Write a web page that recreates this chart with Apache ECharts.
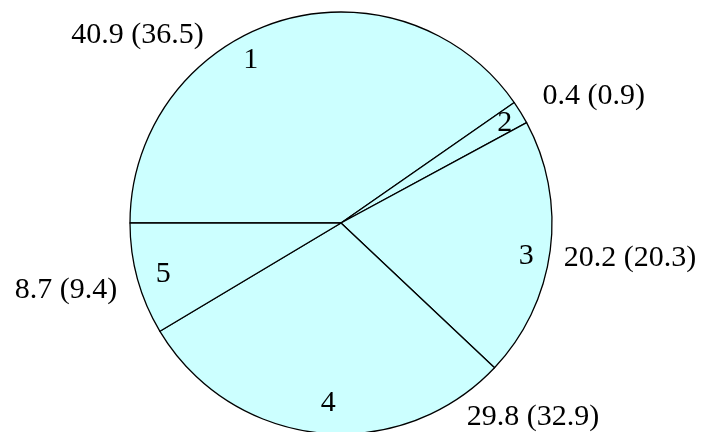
<!DOCTYPE html>
<html><head><meta charset="utf-8">
<script src="https://cdn.jsdelivr.net/npm/echarts@6/dist/echarts.min.js"></script>
<style>html,body{margin:0;padding:0;background:#fff}#c{width:707px;height:432px}</style>
</head><body><div id="c"></div>
<script>
// ---- data ----
const categories = ['1', '2', '3', '4', '5'];
const values = [40.9, 0.4, 20.2, 29.8, 8.7];
const secondValues = [36.5, 0.9, 20.3, 32.9, 9.4];

// ---- label placement (polar, degrees counter-clockwise from east; px from centre) ----
const innerLabelAngles = [119, 31.5, -10, -94, 196];
const innerLabelRadius = [186, 192, 188, 181, 185];
const outerLabelAngles = [137.3, 26.7, -6.9, -45.3, 193.7];
const outerLabelRadius = [277, 283, 291, 273, 283];

const cx = 341, cy = 223, R = 211;
const font = { fontFamily: 'Liberation Serif', fontSize: 30, color: '#000' };

function polar(angles, radii) {
  return function (p) {
    const a = angles[p.dataIndex] * Math.PI / 180;
    return {
      x: cx + radii[p.dataIndex] * Math.cos(a),
      y: cy - radii[p.dataIndex] * Math.sin(a),
      align: 'center',
      verticalAlign: 'middle'
    };
  };
}

const pieData = categories.map((c, i) => ({ name: c, value: values[i] }));
const outerText = values.map((v, i) => v.toFixed(1) + ' (' + secondValues[i].toFixed(1) + ')');

const chart = echarts.init(document.getElementById('c'), null, { renderer: 'canvas' });
chart.setOption({
  animation: false,
  series: [
    {
      type: 'pie',
      center: [cx, cy],
      radius: R,
      startAngle: 180,
      clockwise: true,
      minAngle: 6.4,
      avoidLabelOverlap: false,
      silent: true,
      data: pieData,
      itemStyle: { color: '#ccffff', borderColor: '#000', borderWidth: 1.3 },
      label: Object.assign({ show: true, position: 'inside', formatter: '{b}' }, font),
      labelLine: { show: false },
      labelLayout: polar(innerLabelAngles, innerLabelRadius)
    },
    {
      type: 'pie',
      center: [cx, cy],
      radius: R,
      startAngle: 180,
      clockwise: true,
      minAngle: 6.4,
      avoidLabelOverlap: false,
      silent: true,
      z: 3,
      data: pieData,
      itemStyle: { color: 'rgba(0,0,0,0)', borderWidth: 0 },
      label: Object.assign({ show: true, position: 'outside',
        formatter: p => outerText[p.dataIndex] }, font),
      labelLine: { show: false },
      labelLayout: polar(outerLabelAngles, outerLabelRadius)
    }
  ]
});
</script>
</body></html>
